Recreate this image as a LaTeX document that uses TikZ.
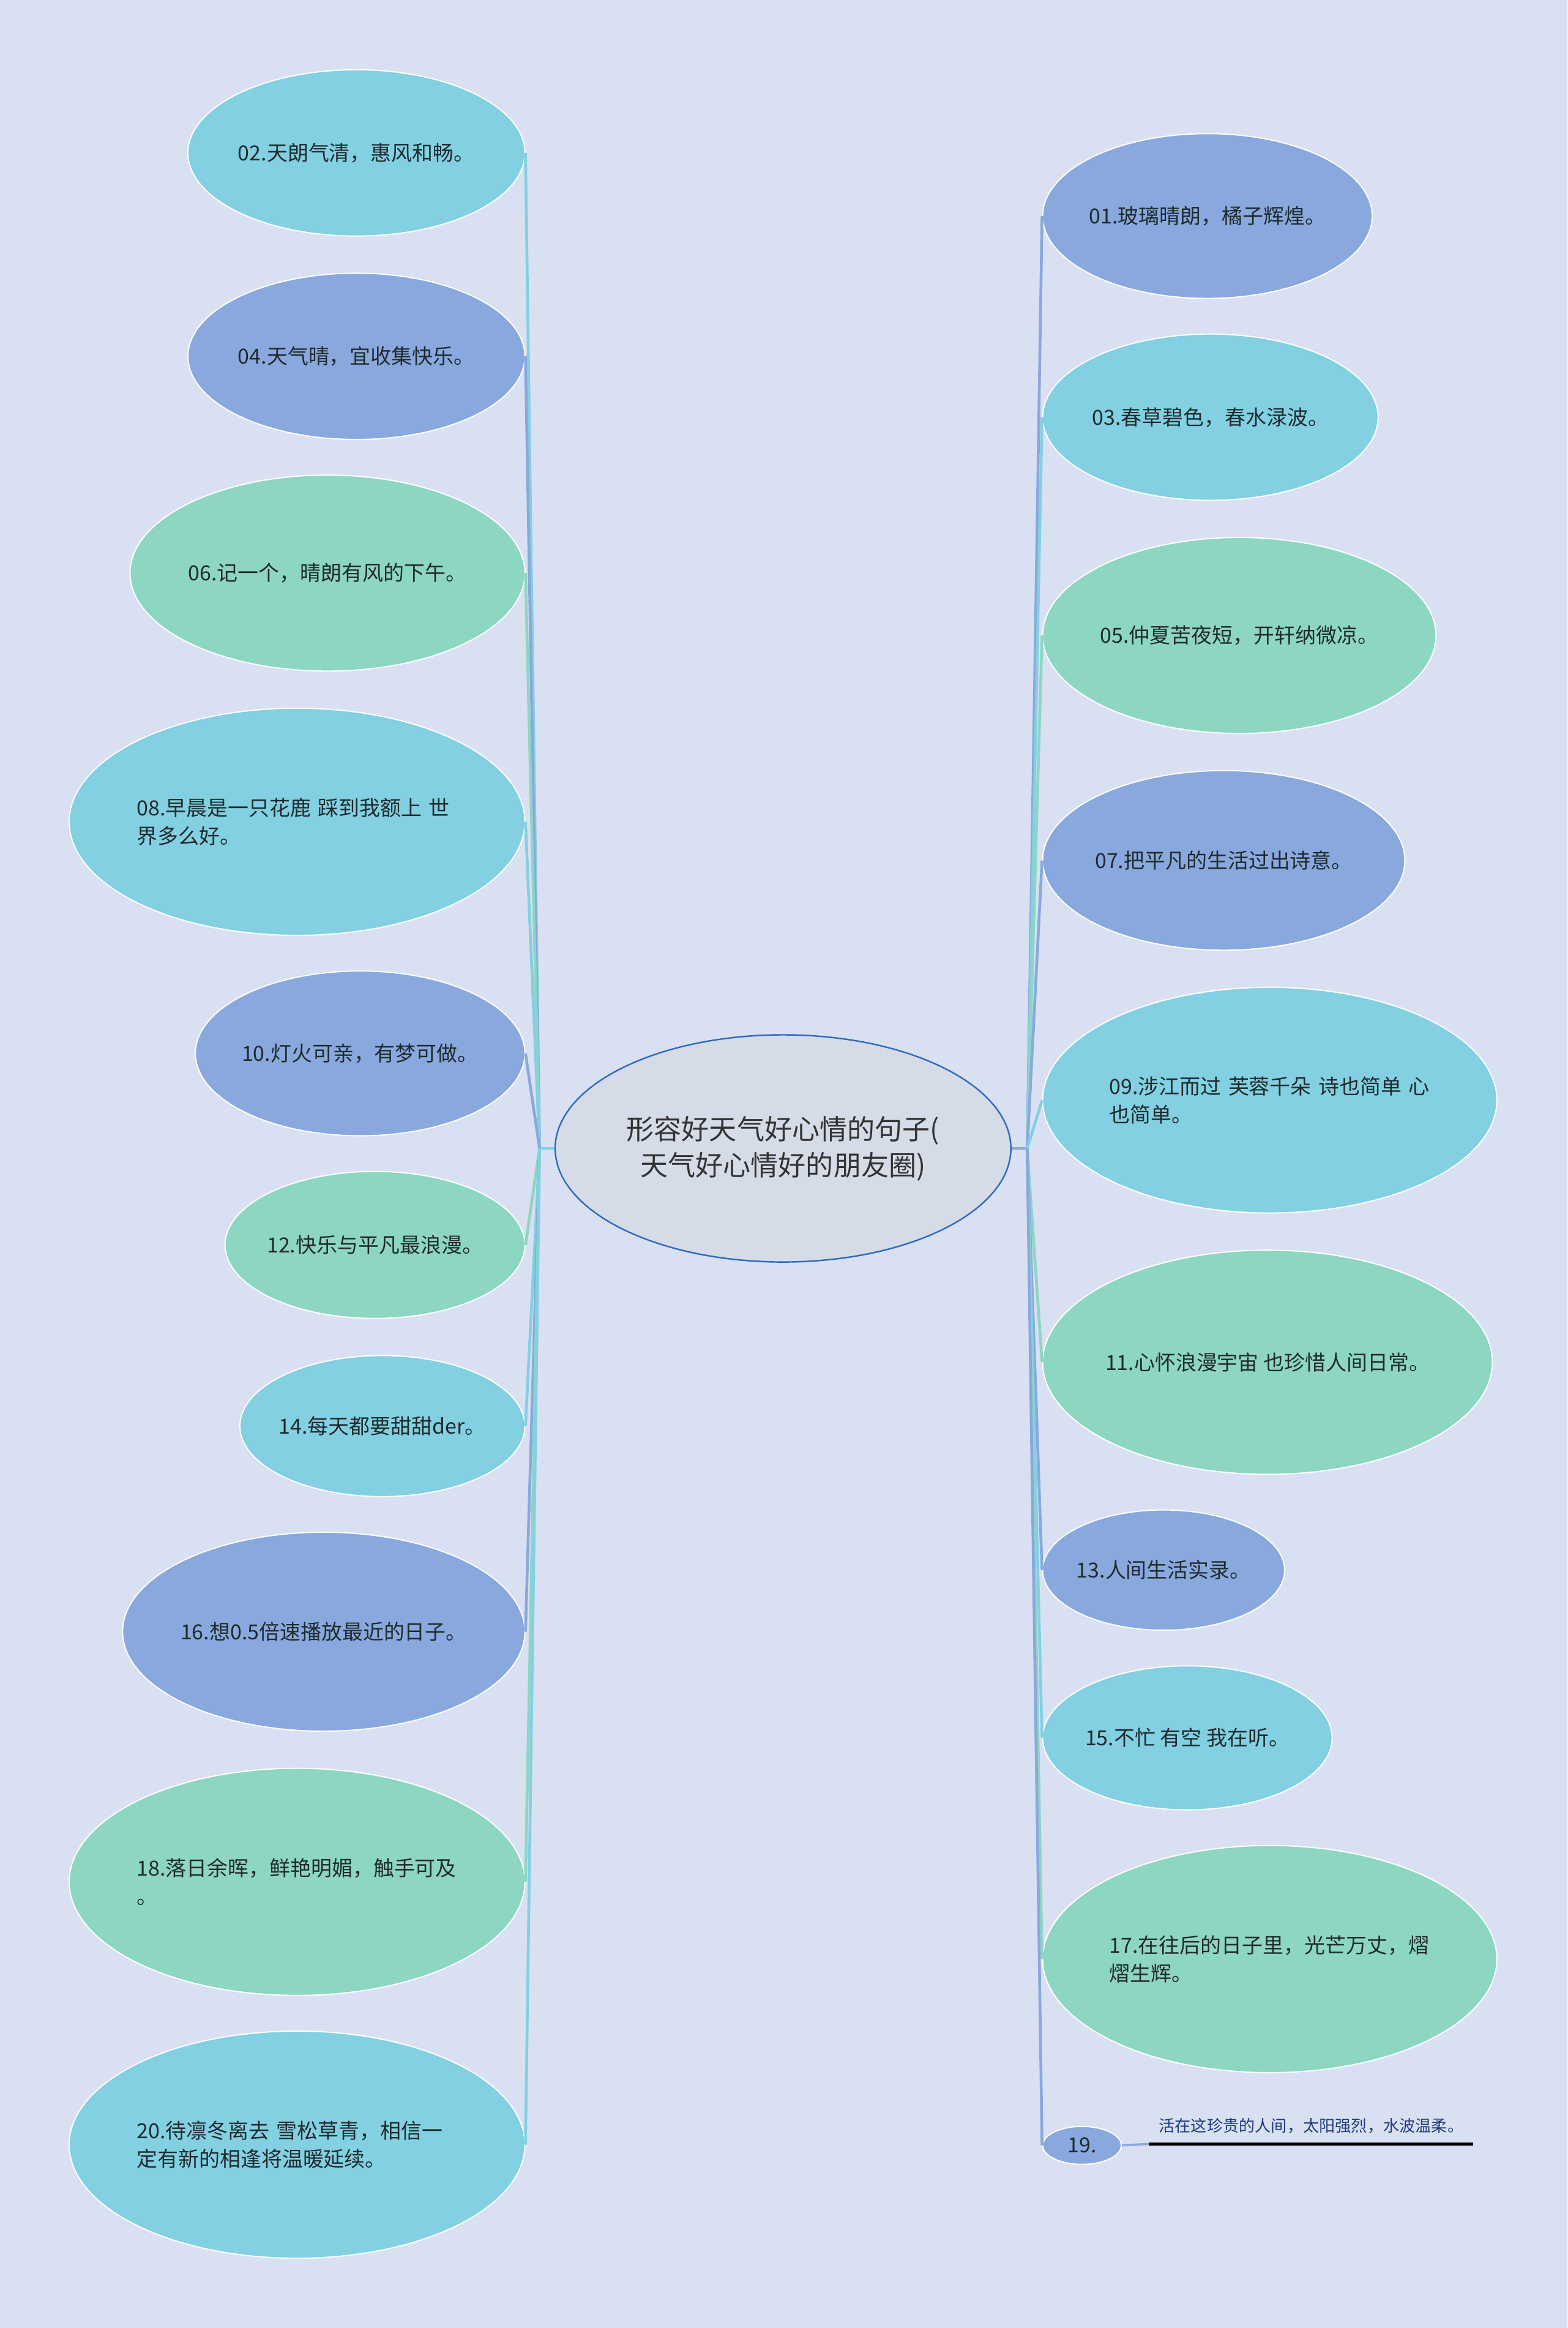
\documentclass[tikz,border=0pt]{standalone}
\usepackage{fontspec}
\setmainfont{Noto Sans CJK SC}
\usepackage{tikz}
\usetikzlibrary{positioning,shapes.geometric}
\definecolor{bgc}{HTML}{D9E0F2}
\definecolor{cyanc}{HTML}{82D0E2}
\definecolor{bluec}{HTML}{89A9DE}
\definecolor{greenc}{HTML}{8DD6C1}
\definecolor{rootc}{HTML}{D5DCE8}
\definecolor{rootline}{HTML}{2F6BC0}
\definecolor{inkc}{HTML}{1E2A2C}
\definecolor{notec}{HTML}{1F3C7C}

\begin{document}
\begin{tikzpicture}[
  x=1pt, y=-1pt,
  topic/.style={
    ellipse,
    draw=rootline,
    fill=rootc,
    line width=1pt,
    inner sep=0pt,
    minimum width=307pt,
    minimum height=153pt,
    align=center,
    text=black!80,
    font=\fontsize{18.6}{24.5}\selectfont
  },
  leaf/.style={
    ellipse,
    draw=white,
    line width=.8pt,
    inner xsep=-6pt,
    inner ysep=0pt,
    text=inkc,
    font=\fontsize{14}{19}\selectfont
  },
  cyanleaf/.style={leaf,fill=cyanc},
  blueleaf/.style={leaf,fill=bluec},
  greenleaf/.style={leaf,fill=greenc},
  longtext/.style={text width=216pt,align=left},
  note/.style={
    inner xsep=6.5pt,
    inner ysep=7pt,
    text=notec,
    font=\fontsize{10.8}{12}\selectfont
  },
  link/.style={line width=1.9pt}
]
  \path[fill=bgc] (0,0) rectangle (1056,1568);

  \node[topic] (root) at (527.5,773.5) {形容好天气好心情的句子(\\天气好心情好的朋友圈)};
  \coordinate[left=10pt of root] (jl);
  \coordinate[right=10.5pt of root] (jr);

  % left side
  \node[cyanleaf,anchor=east,minimum width=227pt,minimum height=112pt] (p02) at (354,103) {02.天朗气清，惠风和畅。};
  \node[blueleaf,anchor=east,minimum width=227pt,minimum height=112pt] (p04) at (354,240) {04.天气晴，宜收集快乐。};
  \node[greenleaf,anchor=east,minimum width=266pt,minimum height=132pt] (p06) at (354,386) {06.记一个，晴朗有风的下午。};
  \node[cyanleaf,longtext,anchor=east,minimum width=307pt,minimum height=153pt] (p08) at (354,553.5) {08.早晨是一只花鹿 踩到我额上 世\\界多么好。};
  \node[blueleaf,anchor=east,minimum width=222pt,minimum height=111pt] (p10) at (354,709.5) {10.灯火可亲，有梦可做。};
  \node[greenleaf,anchor=east,minimum width=202pt,minimum height=99pt] (p12) at (354,838.5) {12.快乐与平凡最浪漫。};
  \node[cyanleaf,anchor=east,minimum width=192pt,minimum height=95pt] (p14) at (354,960.5) {14.每天都要甜甜der。};
  \node[blueleaf,anchor=east,minimum width=271pt,minimum height=134pt] (p16) at (354,1099) {16.想0.5倍速播放最近的日子。};
  \node[greenleaf,longtext,anchor=east,minimum width=307pt,minimum height=153pt] (p18) at (354,1267.5) {18.落日余晖，鲜艳明媚，触手可及\\。};
  \node[cyanleaf,longtext,anchor=east,minimum width=307pt,minimum height=153pt] (p20) at (354,1444.5) {20.待凛冬离去 雪松草青，相信一\\定有新的相逢将温暖延续。};

  % right side
  \node[blueleaf,anchor=west,minimum width=222pt,minimum height=111pt] (p01) at (702,145.5) {01.玻璃晴朗，橘子辉煌。};
  \node[cyanleaf,anchor=west,minimum width=226pt,minimum height=112pt] (p03) at (702,281) {03.春草碧色，春水渌波。};
  \node[greenleaf,anchor=west,minimum width=265pt,minimum height=132pt] (p05) at (702,428) {05.仲夏苦夜短，开轩纳微凉。};
  \node[blueleaf,anchor=west,minimum width=244pt,minimum height=121pt] (p07) at (702,579.5) {07.把平凡的生活过出诗意。};
  \node[cyanleaf,longtext,anchor=west,minimum width=306pt,minimum height=152pt] (p09) at (702,741) {09.涉江而过 芙蓉千朵 诗也简单 心\\也简单。};
  \node[greenleaf,anchor=west,minimum width=303pt,minimum height=151pt] (p11) at (702,917.5) {11.心怀浪漫宇宙 也珍惜人间日常。};
  \node[blueleaf,anchor=west,minimum width=163pt,minimum height=81pt] (p13) at (702,1057.5) {13.人间生活实录。};
  \node[cyanleaf,anchor=west,minimum width=195pt,minimum height=97pt] (p15) at (702,1170.5) {15.不忙 有空 我在听。};
  \node[greenleaf,longtext,anchor=west,minimum width=306pt,minimum height=153pt] (p17) at (702,1319.5) {17.在往后的日子里，光芒万丈，熠\\熠生辉。};
  \node[blueleaf,anchor=west,minimum width=53pt,minimum height=25.5pt] (p19) at (702,1445) {19.};
  \node[note,anchor=south west] (p19note) at (774,1444) {活在这珍贵的人间，太阳强烈，水波温柔。};

  % connectors
  \draw[link,cyanc] (jl) -- (root.west);
  \draw[link,cyanc] (jl) -- (p02.east);
  \draw[link,bluec] (jl) -- (p04.east);
  \draw[link,greenc] (jl) -- (p06.east);
  \draw[link,cyanc] (jl) -- (p08.east);
  \draw[link,bluec] (jl) -- (p10.east);
  \draw[link,greenc] (jl) -- (p12.east);
  \draw[link,cyanc] (jl) -- (p14.east);
  \draw[link,bluec] (jl) -- (p16.east);
  \draw[link,greenc] (jl) -- (p18.east);
  \draw[link,cyanc] (jl) -- (p20.east);

  \draw[link,bluec] (jr) -- (root.east);
  \draw[link,bluec] (jr) -- (p01.west);
  \draw[link,cyanc] (jr) -- (p03.west);
  \draw[link,greenc] (jr) -- (p05.west);
  \draw[link,bluec] (jr) -- (p07.west);
  \draw[link,cyanc] (jr) -- (p09.west);
  \draw[link,greenc] (jr) -- (p11.west);
  \draw[link,bluec] (jr) -- (p13.west);
  \draw[link,cyanc] (jr) -- (p15.west);
  \draw[link,greenc] (jr) -- (p17.west);
  \draw[link,bluec] (jr) -- (p19.west);

  \draw[bluec,line width=1.5pt] (p19.east) -- (p19note.south west);
  \draw[black,line width=2pt] (p19note.south west) -- (p19note.south east);
\end{tikzpicture}
\end{document}
